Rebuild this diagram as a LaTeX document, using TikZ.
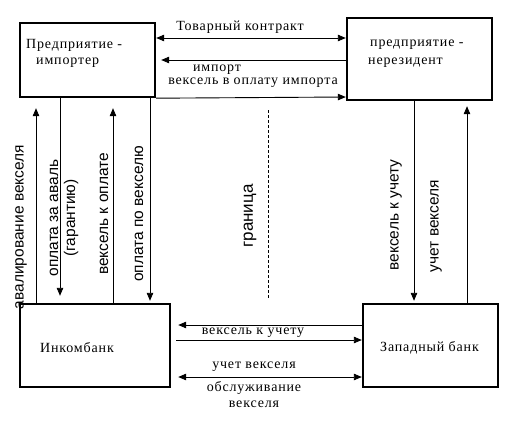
\documentclass[tikz,border=0pt]{standalone}
\usepackage{fontspec}
\setmainfont{Liberation Serif}[LetterSpace=6]
\setsansfont{Liberation Sans}
\usetikzlibrary{arrows.meta}
\begin{document}
\begin{tikzpicture}[x=1pt,y=-1pt,
  box/.style={draw,line width=2.4pt,rectangle,inner sep=0pt},
  conn/.style={line width=0.9pt},
  tip/.style={-{Triangle[length=8pt,width=6.5pt]}},
  lab/.style={font=\fontsize{14}{16}\selectfont,inner sep=0pt},
  vlab/.style={font=\sffamily\fontsize{15.5}{17}\selectfont,inner sep=0pt,rotate=90,align=center},
]
\useasboundingbox (0,0) rectangle (506,444);
\node[box,minimum width=135pt,minimum height=74pt] (b1) at (87.5,60) {};
\node[box,minimum width=145pt,minimum height=82pt] (b2) at (419.5,59) {};
\node[box,minimum width=150pt,minimum height=83pt] (b3) at (95,345.5) {};
\node[box,minimum width=135pt,minimum height=83pt] (b4) at (430.5,345.5) {};
% box texts
\node[lab,anchor=west] (t1a) at (26,45) {Предприятие -};
\node[lab,anchor=west] (t1b) at (36,63) {импортер};
\node[lab,anchor=west] (t2a) at (370,45) {предприятие -};
\node[lab,anchor=west] (t2b) at (368,63) {нерезидент};
\node[lab,anchor=west] (t3) at (40,348) {Инкомбанк};
\node[lab,anchor=west] (t4) at (380,348) {Западный банк};
% top connectors
\draw[conn,{Triangle[length=8pt,width=6.5pt]}-{Triangle[length=8pt,width=6.5pt]}] (b1.east |- 0,38) -- (b2.west |- 0,38);
\node[lab] (l1) at (240,27) {Товарный контракт};
\draw[conn,tip,shorten >=5pt] (b2.west |- 0,60) -- (b1.east |- 0,60);
\node[lab] (l2) at (217,70) {импорт};
\draw[conn,tip] (b1.south east) -- (b2.west |- 0,97);
\node[lab] (l3) at (253,83) {вексель в оплату импорта};
% left verticals
\draw[conn,tip,shorten >=10pt] (b3.north -| 36,0) -- (b1.south -| 36,0);
\node[vlab] (v1) at (21,227) {авалирование векселя};
\draw[conn,tip,shorten >=7pt] (b1.south -| 60,0) -- (b3.north -| 60,0);
\node[vlab] (v2) at (64,218) {оплата за аваль\\(гарантию)};
\draw[conn,tip,shorten >=10pt] (b3.north -| 113,0) -- (b1.south -| 113,0);
\node[vlab] (v3) at (104,214) {вексель к оплате};
\draw[conn,tip,shorten >=2pt] (b1.south -| 150,0) -- (b3.north -| 150,0);
\node[vlab] (v4) at (139,214) {оплата по векселю};
% border
\coordinate (g1) at (268,110);
\coordinate (g2) at (268,298);
\draw[line width=0.8pt,dash pattern=on 3pt off 2pt] (g1) -- (g2);
\node[vlab,font=\sffamily\fontsize{17}{18}\selectfont] (gr) at (250,216) {граница};
% right verticals
\draw[conn,tip,shorten >=2pt] (b2.south -| 414,0) -- (b4.north -| 414,0);
\node[vlab] (v5) at (396,215) {вексель к учету};
\draw[conn,tip,shorten >=5pt] (b4.north -| 467,0) -- (b2.south -| 467,0);
\node[vlab] (v6) at (436,226) {учет векселя};
% bottom connectors
\draw[conn,tip,shorten >=7pt] (b4.west |- 0,325) -- (b3.east |- 0,325);
\node[lab] (l4) at (253,333) {вексель к учету};
\draw[conn,tip,shorten <=5pt] (b3.east |- 0,340) -- (b4.west |- 0,340);
\node[lab] (l5) at (254,367) {учет векселя};
\draw[conn,{Triangle[length=8pt,width=6.5pt]}-{Triangle[length=8pt,width=6.5pt]},shorten <=7pt] (b3.east |- 0,377) -- (b4.west |- 0,377);
\node[lab,align=center] (l6) at (254,395) {обслуживание\\векселя};
\end{tikzpicture}
\end{document}
